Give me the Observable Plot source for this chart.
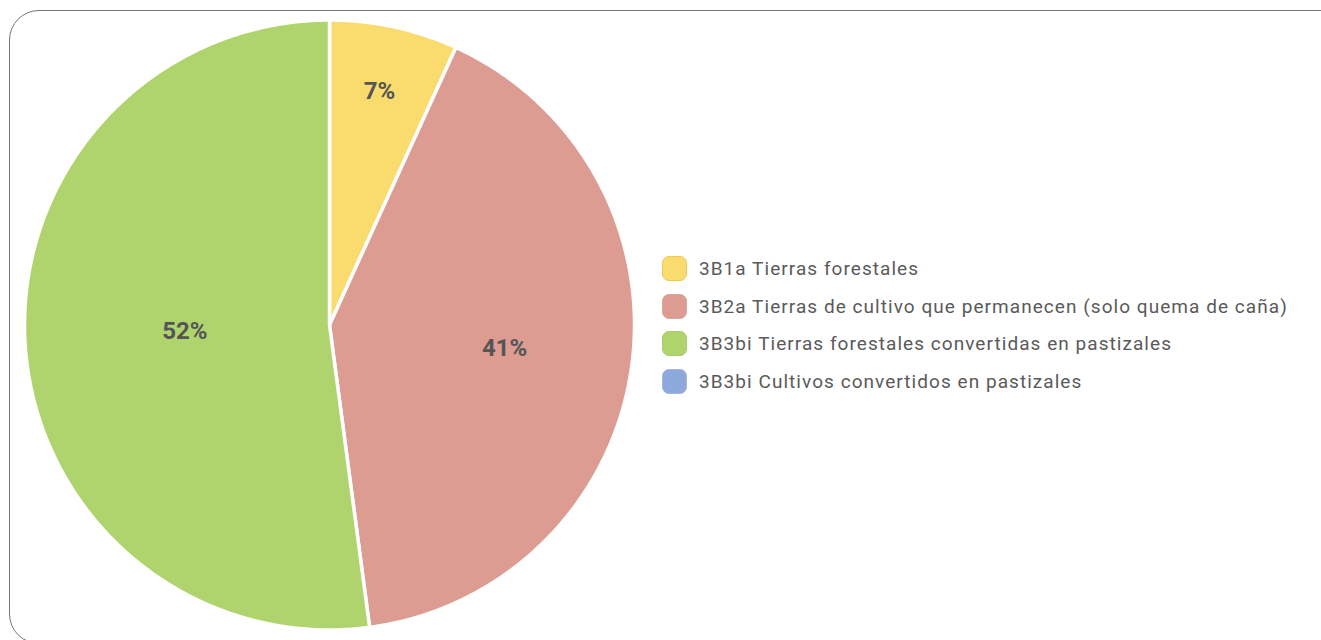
<!DOCTYPE html>
<html>
<head>
<meta charset="utf-8">
<script src="https://cdn.jsdelivr.net/npm/d3@7"></script>
<script src="https://cdn.jsdelivr.net/npm/@observablehq/plot@0.6"></script>
<style>
  html, body { margin: 0; padding: 0; background: #fff; }
  #wrap { position: relative; width: 1321px; height: 640px; overflow: hidden; font-family: Roboto, "Noto Sans", sans-serif; }
  #frame { position: absolute; left: 9px; top: 10px; width: 1400px; height: 634px; border: 1.5px solid #757575; border-radius: 30px; box-sizing: border-box; }
  #chart { position: absolute; left: 0; top: 0; }
  #legend { position: absolute; left: 662px; top: 250px; }
  .item { display: flex; align-items: center; height: 37.5px; }
  .sw { width: 25px; height: 25px; border-radius: 7px; box-sizing: border-box; border: 1px solid; margin-right: 12px; }
  .lab { font-size: 19px; color: #5a5a5a; font-weight: 400; letter-spacing: 1.05px; white-space: nowrap; }
</style>
</head>
<body>
<div id="wrap">
  <div id="frame"></div>
  <div id="chart"></div>
  <div id="legend"></div>
</div>
<script>
const categories = [
  "3B1a Tierras forestales",
  "3B2a Tierras de cultivo que permanecen (solo quema de caña)",
  "3B3bi Tierras forestales convertidas en pastizales",
  "3B3bi Cultivos convertidos en pastizales"
];
const values = [6.8, 41.1, 52.1, 0];
const colors = ["#F9DC6D", "#DC9C92", "#B0D46D", "#8DA8DA"];
const borders = ["#EDC860", "#D9A79F", "#A8CC66", "#A9B4DD"];

const total = d3.sum(values);
const arcs = d3.pie().sort(null).value(d => d)(values);

// polygon points for each slice, unit radius, y up
const pts = [];
arcs.forEach((a, i) => {
  if (a.endAngle - a.startAngle <= 0) return;
  pts.push({cat: categories[i], x: 0, y: 0});
  const n = Math.max(2, Math.ceil((a.endAngle - a.startAngle) / 0.01));
  for (let k = 0; k <= n; k++) {
    const t = a.startAngle + (a.endAngle - a.startAngle) * k / n;
    pts.push({cat: categories[i], x: Math.sin(t), y: Math.cos(t)});
  }
  pts.push({cat: categories[i], x: 0, y: 0});
});

// labels near the slice centroid
const labels = arcs.filter(a => a.value > 0).map(a => {
  const th = a.endAngle - a.startAngle;
  const mid = (a.startAngle + a.endAngle) / 2;
  const d = Math.min(0.79, 1.17 * 4 * Math.sin(th / 2) / (3 * th));
  return {x: d * Math.sin(mid), y: d * Math.cos(mid), text: Math.round(a.value / total * 100) + "%"};
});

const cx = 329, cy = 324.5, R = 305;
const plot = Plot.plot({
  width: 1321,
  height: 640,
  margin: 0,
  style: {fontFamily: "Roboto, 'Noto Sans', sans-serif", background: "transparent"},
  x: {domain: [-1, 1], range: [cx - R, cx + R], axis: null},
  y: {domain: [-1, 1], range: [cy + R, cy - R], axis: null},
  color: {domain: categories, range: colors},
  marks: [
    Plot.line(pts, {x: "x", y: "y", z: "cat", fill: "cat", stroke: "white", strokeWidth: 3.5, strokeLinejoin: "round"}),
    Plot.text(labels, {x: "x", y: "y", text: "text", fill: "#555", fontSize: 24, fontWeight: "bold", dy: -3})
  ]
});
document.getElementById("chart").appendChild(plot);

const legend = d3.select("#legend");
categories.forEach((c, i) => {
  const it = legend.append("div").attr("class", "item");
  it.append("div").attr("class", "sw").style("background", colors[i]).style("border-color", borders[i]);
  it.append("div").attr("class", "lab").text(c);
});
</script>
</body>
</html>
